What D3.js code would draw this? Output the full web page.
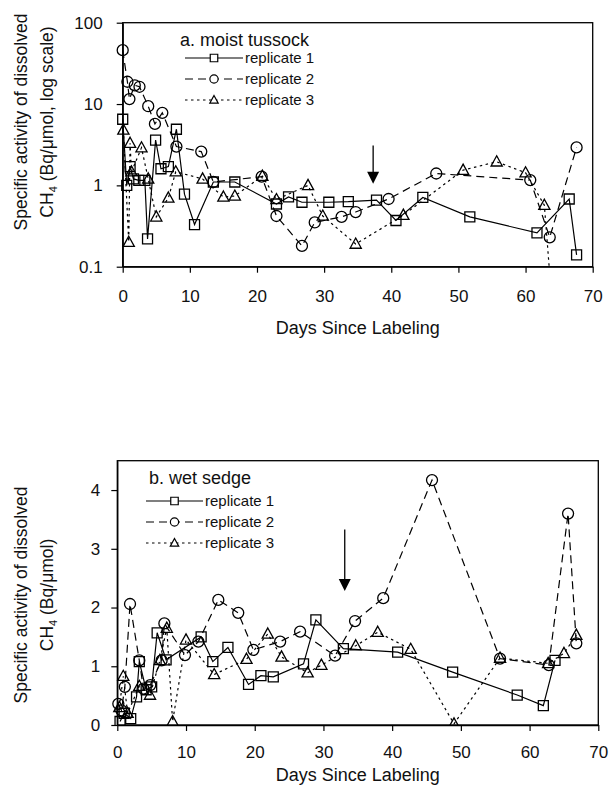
<!DOCTYPE html>
<html>
<head>
<meta charset="utf-8">
<script src="https://cdn.jsdelivr.net/npm/d3@7"></script>
<style>
  body { margin: 0; background: #fff; }
  svg { display: block; font-family: "Liberation Sans", Arial, sans-serif; }
</style>
</head>
<body>
<div id="chart"></div>
<script>
// ---- data: [day, specific activity] ----
const tussockRep1 = [[0,6.5],[0.6,1.0],[1.1,1.7],[1.6,1.2],[2.4,1.15],[3.3,1.15],[3.7,0.22],[4.9,3.6],[5.7,1.6],[6.8,1.7],[8.0,4.9],[9.2,0.78],[10.7,0.33],[13.5,1.1],[16.7,1.1],[22.9,0.59],[24.7,0.72],[26.7,0.62],[30.7,0.62],[33.6,0.63],[37.8,0.66],[40.7,0.37],[44.7,0.71],[51.7,0.41],[61.7,0.26],[66.5,0.68],[67.6,0.14]];
const tussockRep2 = [[0,46],[0.7,18.8],[1.0,11.5],[1.8,17],[2.5,16.3],[3.8,9.4],[4.8,5.7],[5.9,7.8],[8.0,3.0],[11.7,2.6],[13.5,1.1],[20.7,1.28],[22.9,0.42],[26.7,0.18],[28.6,0.35],[32.6,0.41],[34.7,0.47],[39.6,0.68],[46.7,1.4],[60.7,1.16],[63.6,0.23],[67.6,2.93]];
const tussockRep3 = [[0.1,4.8],[0.9,0.2],[1.1,3.3],[1.3,1.47],[2.8,2.9],[3.8,1.2],[5.0,0.41],[6.8,0.70],[7.9,1.47],[11.9,1.2],[15.0,0.72],[16.7,0.74],[20.8,1.3],[22.9,0.67],[27.6,1.0],[29.8,0.42],[34.7,0.19],[41.8,0.43],[50.7,1.54],[55.7,1.95],[60.0,1.43],[62.8,0.57],[63.8,0.05]];

const sedgeRep1 = [[0.4,0.06],[1.0,0.2],[1.95,0.11],[2.8,0.48],[3.2,1.08],[4.2,0.6],[5.0,0.65],[5.8,1.57],[7.1,1.11],[12.2,1.5],[13.9,1.08],[16.1,1.32],[19.1,0.69],[20.9,0.84],[22.7,0.82],[27.1,1.04],[28.9,1.79],[32.9,1.3],[40.8,1.24],[48.8,0.9],[58.2,0.51],[62.0,0.33],[63.7,1.1]];
const sedgeRep2 = [[0.15,0.36],[0.6,0.25],[1.1,0.65],[1.85,2.06],[3.2,1.1],[3.8,0.62],[4.8,0.68],[6.45,1.1],[6.85,1.73],[9.85,1.19],[11.8,1.42],[14.7,2.13],[17.6,1.91],[19.8,1.28],[23.7,1.42],[26.6,1.59],[31.7,1.18],[34.6,1.77],[38.7,2.16],[45.8,4.17],[55.7,1.13],[62.8,1.02],[65.6,3.6],[66.8,1.39]];
const sedgeRep3 = [[0.3,0.3],[0.87,0.83],[1.5,0.2],[3.2,0.66],[4.76,0.51],[6.2,1.1],[7.2,1.65],[8.05,0.06],[10.0,1.45],[14.1,0.86],[18.8,1.12],[21.9,1.55],[23.9,1.16],[27.7,0.89],[29.7,1.02],[34.7,1.35],[37.9,1.58],[42.7,1.29],[49.0,0.02],[55.7,1.14],[62.7,1.05],[65.0,1.22],[66.8,1.53]];

const dayTicks = [0, 10, 20, 30, 40, 50, 60, 70];
const logTicks = [0.1, 1, 10, 100];
const linTicks = [0, 1, 2, 3, 4];
const seriesNames = ['replicate 1', 'replicate 2', 'replicate 3'];
// arrow annotations: [day, value at tail, value at head]
const tussockArrow = [37.3, 3.1, 1.05];
const sedgeArrow = [33.1, 3.33, 2.28];

const width = 610, height = 796;

const svg = d3.select('#chart')
  .append('svg')
  .attr('width', width)
  .attr('height', height);

// marker shapes, all drawn unfilled
const shapes = {
  square: 'M-5,-5H5V5H-5Z',
  circle: 'M-5.5,0A5.5,5.5 0 1,0 5.5,0A5.5,5.5 0 1,0 -5.5,0',
  triangle: 'M0,-6L5.6,4.2H-5.6Z'
};
const styles = [
  { shape: 'square', dash: null },
  { shape: 'circle', dash: '8,5' },
  { shape: 'triangle', dash: '2.5,3.5' }
];

function drawPanel(cfg) {
  const g = svg.append('g');
  const x = d3.scaleLinear().domain([0, 70]).range([cfg.left, cfg.right]);
  const y = cfg.y.range([cfg.bottom, cfg.top]);

  // clip for values that run off the axis
  svg.append('clipPath').attr('id', cfg.id + '-clip')
    .append('rect')
    .attr('x', cfg.left - 8).attr('y', cfg.top - 8)
    .attr('width', cfg.right - cfg.left + 16)
    .attr('height', cfg.bottom - cfg.top + 8);

  // frame
  g.append('rect')
    .attr('x', cfg.left).attr('y', cfg.top)
    .attr('width', cfg.right - cfg.left)
    .attr('height', cfg.bottom - cfg.top)
    .attr('fill', 'none')
    .attr('stroke', '#000')
    .attr('stroke-width', 1.3);

  // axes
  const xAxis = g.append('g')
    .attr('transform', `translate(0,${cfg.bottom})`)
    .call(d3.axisBottom(x).tickValues(dayTicks).tickSize(6).tickSizeOuter(0).tickPadding(cfg.padX));
  const yAxis = g.append('g')
    .attr('transform', `translate(${cfg.left},0)`)
    .call(d3.axisLeft(y).tickValues(cfg.ticks).tickFormat(cfg.format).tickSize(6).tickSizeOuter(0).tickPadding(cfg.padY));
  [xAxis, yAxis].forEach(a => {
    a.select('.domain').attr('stroke', '#000').attr('stroke-width', 1.3);
    a.selectAll('.tick line').attr('stroke', '#000').attr('stroke-width', 1.2);
    a.selectAll('.tick text')
      .attr('fill', '#111')
      .style('font-size', '17px')
      .style('font-family', '"Liberation Sans", Arial, sans-serif');
  });

  // x-axis title
  g.append('text')
    .attr('x', (cfg.left + cfg.right) / 2)
    .attr('y', cfg.bottom + cfg.titleDrop)
    .attr('text-anchor', 'middle')
    .attr('fill', '#111')
    .style('font-size', '18px')
    .text('Days Since Labeling');

  // y-axis title (two lines, CH4 with subscript)
  const yt = g.append('text')
    .attr('transform', `translate(0,${cfg.yTitleY}) rotate(-90)`)
    .attr('text-anchor', 'middle')
    .attr('fill', '#111')
    .style('font-size', '17.5px');
  yt.append('tspan').attr('x', 0).attr('y', 27).text('Specific activity of dissolved');
  yt.append('tspan').attr('x', 0).attr('y', 53).text('CH');
  yt.append('tspan').attr('dy', 4).style('font-size', '11px').text('4');
  yt.append('tspan').attr('dy', -4).text(cfg.unitText);

  // series
  const plot = g.append('g').attr('clip-path', `url(#${cfg.id}-clip)`);
  const line = d3.line().x(d => x(d[0])).y(d => y(d[1]));
  cfg.series.forEach((data, i) => {
    const st = styles[i];
    plot.append('path')
      .datum(data)
      .attr('d', line)
      .attr('fill', 'none')
      .attr('stroke', '#000')
      .attr('stroke-width', 1.2)
      .attr('stroke-dasharray', st.dash);
    plot.selectAll(`.m${i}`)
      .data(data)
      .enter()
      .append('path')
      .attr('class', `m${i}`)
      .attr('d', shapes[st.shape])
      .attr('transform', d => `translate(${x(d[0])},${y(d[1])})`)
      .attr('fill', 'none')
      .attr('stroke', '#000')
      .attr('stroke-width', 1.3);
  });

  // arrow annotation
  const [ad, a0, a1] = cfg.arrow;
  const ax = x(ad), ay0 = y(a0), ay1 = y(a1);
  g.append('line')
    .attr('x1', ax).attr('x2', ax)
    .attr('y1', ay0).attr('y2', ay1 - 10)
    .attr('stroke', '#000').attr('stroke-width', 1.3);
  g.append('path')
    .attr('d', `M${ax - 6},${ay1 - 12}L${ax + 6},${ay1 - 12}L${ax},${ay1}Z`)
    .attr('fill', '#000');

  // legend
  const lg = g.append('g');
  lg.append('text')
    .attr('x', cfg.legend.titleX).attr('y', cfg.legend.titleY)
    .attr('fill', '#111')
    .style('font-size', '18px')
    .text(cfg.title);
  seriesNames.forEach((name, i) => {
    const st = styles[i];
    const ly = cfg.legend.y0 + i * 21;
    lg.append('line')
      .attr('x1', cfg.legend.x0).attr('x2', cfg.legend.x1)
      .attr('y1', ly).attr('y2', ly)
      .attr('stroke', '#000').attr('stroke-width', 1.2)
      .attr('stroke-dasharray', st.dash);
    lg.append('path')
      .attr('d', shapes[st.shape])
      .attr('transform', `translate(${(cfg.legend.x0 + cfg.legend.x1) / 2},${ly}) scale(0.75)`)
      .attr('fill', '#fff')
      .attr('stroke', '#000')
      .attr('stroke-width', 1.6);
    lg.append('text')
      .attr('x', cfg.legend.x1 + 2).attr('y', ly + 5)
      .attr('fill', '#111')
      .style('font-size', '15px')
      .text(name);
  });
}

drawPanel({
  id: 'tussock',
  left: 122.7, right: 592.7, top: 22.7, bottom: 266.7,
  y: d3.scaleLog().domain([0.1, 100]),
  ticks: logTicks,
  format: d => (d < 1 ? '0.1' : String(d)),
  padX: 17, padY: 14,
  titleDrop: 67,
  yTitleY: 122,
  unitText: ' (Bq/μmol, log scale)',
  series: [tussockRep1, tussockRep2, tussockRep3],
  arrow: tussockArrow,
  title: 'a. moist tussock',
  legend: { titleX: 180, titleY: 46, x0: 185, x1: 243, y0: 58 }
});

drawPanel({
  id: 'sedge',
  left: 117.3, right: 598.3, top: 460.7, bottom: 725,
  y: d3.scaleLinear().domain([0, 4.5]),
  ticks: linTicks,
  format: d3.format('d'),
  padX: 15, padY: 11,
  titleDrop: 56,
  yTitleY: 595,
  unitText: ' (Bq/μmol)',
  series: [sedgeRep1, sedgeRep2, sedgeRep3],
  arrow: sedgeArrow,
  title: 'b. wet sedge',
  legend: { titleX: 149, titleY: 484, x0: 146, x1: 203, y0: 501 }
});
</script>
</body>
</html>
